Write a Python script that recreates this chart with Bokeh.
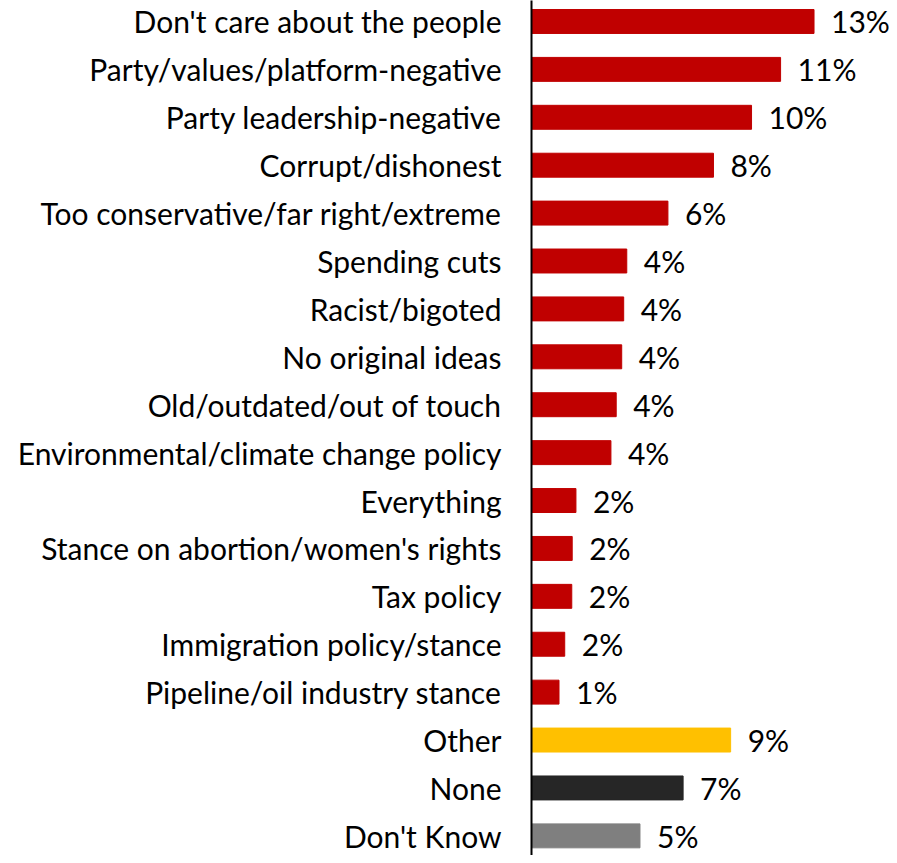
from bokeh.plotting import figure
from bokeh.models import ColumnDataSource, Range1d, FixedTicker
from bokeh.core.properties import value
from bokeh.embed import file_html
from bokeh.resources import INLINE

categories = [
    "Don't care about the people",
    "Party/values/platform-negative",
    "Party leadership-negative",
    "Corrupt/dishonest",
    "Too conservative/far right/extreme",
    "Spending cuts",
    "Racist/bigoted",
    "No original ideas",
    "Old/outdated/out of touch",
    "Environmental/climate change policy",
    "Everything",
    "Stance on abortion/women's rights",
    "Tax policy",
    "Immigration policy/stance",
    "Pipeline/oil industry stance",
    "Other",
    "None",
    "Don't Know",
]
values = [12.84, 11.32, 10.0, 8.27, 6.2, 4.33, 4.19, 4.1, 3.85, 3.61,
          2.02, 1.85, 1.83, 1.51, 1.25, 9.05, 6.89, 4.93]
value_labels = ["13%", "11%", "10%", "8%", "6%", "4%", "4%", "4%", "4%", "4%",
                "2%", "2%", "2%", "2%", "1%", "9%", "7%", "5%"]
bar_colors = ["#C00000"] * 15 + ["#FFC000", "#262626", "#7F7F7F"]

FONT = "Lato"
FS = "30px"

pos = list(range(len(categories)))
src = ColumnDataSource(dict(y=pos, v=values, lab=value_labels, c=bar_colors))

p = figure(frame_width=358, frame_height=855, output_backend="svg",
           toolbar_location=None, min_border=0, min_border_left=531,
           x_range=Range1d(0, 16.27), y_range=Range1d(17.41, -0.438))

p.hbar(y="y", left=0, right="v", height=0.5, color="c", source=src)
p.text(x="v", y="y", text="lab", source=src, x_offset=17,
       text_baseline="middle", text_align="left",
       text_font=value(FONT), text_font_size=FS, text_color="#000000")

p.xaxis.visible = False
p.xgrid.visible = False
p.ygrid.visible = False
p.outline_line_color = None

ax = p.yaxis[0]
ax.ticker = FixedTicker(ticks=pos)
ax.major_label_overrides = {i: c for i, c in enumerate(categories)}
ax.major_tick_line_color = None
ax.minor_tick_line_color = None
ax.major_tick_out = 0
ax.major_tick_in = 0
ax.axis_line_color = "#000000"
ax.axis_line_width = 2
ax.major_label_standoff = 30
ax.major_label_text_font = FONT
ax.major_label_text_font_size = FS
ax.major_label_text_color = "#000000"

open("out.html", "w").write(file_html(p, INLINE))
